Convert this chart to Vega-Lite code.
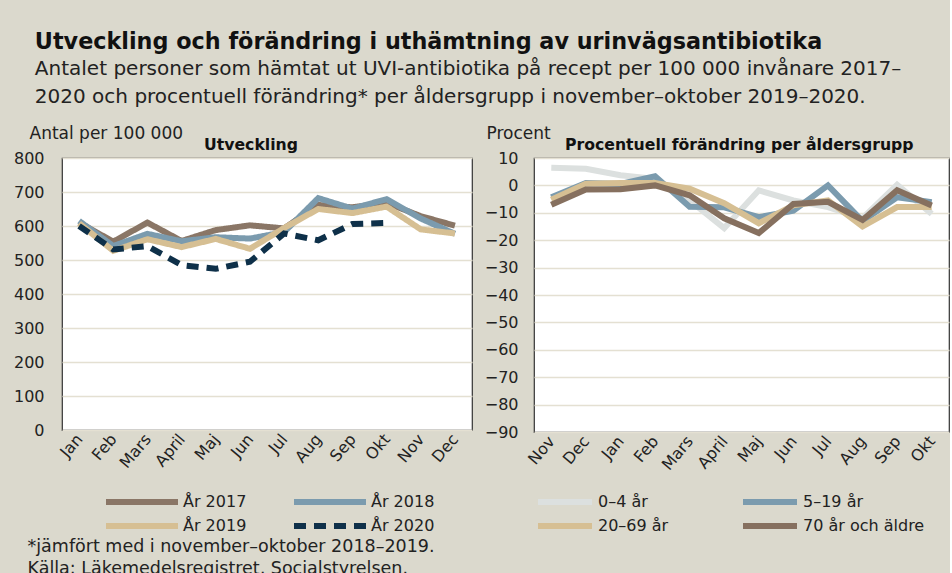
{
  "$schema": "https://vega.github.io/schema/vega-lite/v6.json",
  "background": "#DBD9CD",
  "padding": {"left": 12, "top": 31, "right": 0, "bottom": 0},
  "config": {
    "font": "DejaVu Sans",
    "view": {"stroke": "#333333", "strokeWidth": 1.2, "fill": "white"},
    "axis": {"labelFont": "DejaVu Sans", "titleFont": "DejaVu Sans", "labelColor": "#222", "titleColor": "#222"},
    "legend": {"labelFont": "DejaVu Sans", "labelColor": "#222"}
  },
  "title": {
    "text": "Utveckling och förändring i uthämtning av urinvägsantibiotika",
    "subtitle": ["Antalet personer som hämtat ut UVI-antibiotika på recept per 100 000 invånare 2017–", "2020 och procentuell förändring* per åldersgrupp i november–oktober 2019–2020."],
    "anchor": "start",
    "dx": 22,
    "font": "DejaVu Sans",
    "fontSize": 22.3,
    "fontWeight": "bold",
    "color": "#111",
    "subtitleFont": "DejaVu Sans",
    "subtitleFontSize": 20,
    "subtitleColor": "#222",
    "subtitleLineHeight": 28,
    "subtitlePadding": 6,
    "offset": 16
  },
  "datasets": {
    "utv": [
      {"manad": "Jan", "ar": "År 2017", "antal": 610}, {"manad": "Feb", "ar": "År 2017", "antal": 554}, {"manad": "Mars", "ar": "År 2017", "antal": 610}, {"manad": "April", "ar": "År 2017", "antal": 556}, {"manad": "Maj", "ar": "År 2017", "antal": 588}, {"manad": "Jun", "ar": "År 2017", "antal": 602}, {"manad": "Jul", "ar": "År 2017", "antal": 593}, {"manad": "Aug", "ar": "År 2017", "antal": 662}, {"manad": "Sep", "ar": "År 2017", "antal": 655}, {"manad": "Okt", "ar": "År 2017", "antal": 668}, {"manad": "Nov", "ar": "År 2017", "antal": 629}, {"manad": "Dec", "ar": "År 2017", "antal": 601},
      {"manad": "Jan", "ar": "År 2018", "antal": 615}, {"manad": "Feb", "ar": "År 2018", "antal": 541}, {"manad": "Mars", "ar": "År 2018", "antal": 577}, {"manad": "April", "ar": "År 2018", "antal": 555}, {"manad": "Maj", "ar": "År 2018", "antal": 567}, {"manad": "Jun", "ar": "År 2018", "antal": 563}, {"manad": "Jul", "ar": "År 2018", "antal": 582}, {"manad": "Aug", "ar": "År 2018", "antal": 682}, {"manad": "Sep", "ar": "År 2018", "antal": 651}, {"manad": "Okt", "ar": "År 2018", "antal": 679}, {"manad": "Nov", "ar": "År 2018", "antal": 622}, {"manad": "Dec", "ar": "År 2018", "antal": 577},
      {"manad": "Jan", "ar": "År 2019", "antal": 608}, {"manad": "Feb", "ar": "År 2019", "antal": 527}, {"manad": "Mars", "ar": "År 2019", "antal": 561}, {"manad": "April", "ar": "År 2019", "antal": 538}, {"manad": "Maj", "ar": "År 2019", "antal": 562}, {"manad": "Jun", "ar": "År 2019", "antal": 533}, {"manad": "Jul", "ar": "År 2019", "antal": 594}, {"manad": "Aug", "ar": "År 2019", "antal": 650}, {"manad": "Sep", "ar": "År 2019", "antal": 638}, {"manad": "Okt", "ar": "År 2019", "antal": 657}, {"manad": "Nov", "ar": "År 2019", "antal": 590}, {"manad": "Dec", "ar": "År 2019", "antal": 578},
      {"manad": "Jan", "ar": "År 2020", "antal": 600}, {"manad": "Feb", "ar": "År 2020", "antal": 531}, {"manad": "Mars", "ar": "År 2020", "antal": 541}, {"manad": "April", "ar": "År 2020", "antal": 485}, {"manad": "Maj", "ar": "År 2020", "antal": 474}, {"manad": "Jun", "ar": "År 2020", "antal": 495}, {"manad": "Jul", "ar": "År 2020", "antal": 578}, {"manad": "Aug", "ar": "År 2020", "antal": 558}, {"manad": "Sep", "ar": "År 2020", "antal": 606}, {"manad": "Okt", "ar": "År 2020", "antal": 609}
    ],
    "pct": [
      {"manad": "Nov", "grupp": "0–4 år", "procent": 6.4}, {"manad": "Dec", "grupp": "0–4 år", "procent": 6.1}, {"manad": "Jan", "grupp": "0–4 år", "procent": 3.7}, {"manad": "Feb", "grupp": "0–4 år", "procent": 2.4}, {"manad": "Mars", "grupp": "0–4 år", "procent": -5.5}, {"manad": "April", "grupp": "0–4 år", "procent": -15.6}, {"manad": "Maj", "grupp": "0–4 år", "procent": -1.8}, {"manad": "Jun", "grupp": "0–4 år", "procent": -5.5}, {"manad": "Jul", "grupp": "0–4 år", "procent": -7.9}, {"manad": "Aug", "grupp": "0–4 år", "procent": -12}, {"manad": "Sep", "grupp": "0–4 år", "procent": 0.2}, {"manad": "Okt", "grupp": "0–4 år", "procent": -10.4},
      {"manad": "Nov", "grupp": "5–19 år", "procent": -4.3}, {"manad": "Dec", "grupp": "5–19 år", "procent": 0.9}, {"manad": "Jan", "grupp": "5–19 år", "procent": 0.5}, {"manad": "Feb", "grupp": "5–19 år", "procent": 3.3}, {"manad": "Mars", "grupp": "5–19 år", "procent": -7.8}, {"manad": "April", "grupp": "5–19 år", "procent": -8}, {"manad": "Maj", "grupp": "5–19 år", "procent": -11.6}, {"manad": "Jun", "grupp": "5–19 år", "procent": -9.2}, {"manad": "Jul", "grupp": "5–19 år", "procent": 0}, {"manad": "Aug", "grupp": "5–19 år", "procent": -13}, {"manad": "Sep", "grupp": "5–19 år", "procent": -4.3}, {"manad": "Okt", "grupp": "5–19 år", "procent": -6.1},
      {"manad": "Nov", "grupp": "20–69 år", "procent": -5.2}, {"manad": "Dec", "grupp": "20–69 år", "procent": 0.6}, {"manad": "Jan", "grupp": "20–69 år", "procent": 0.9}, {"manad": "Feb", "grupp": "20–69 år", "procent": 0.9}, {"manad": "Mars", "grupp": "20–69 år", "procent": -1.2}, {"manad": "April", "grupp": "20–69 år", "procent": -6.5}, {"manad": "Maj", "grupp": "20–69 år", "procent": -13.8}, {"manad": "Jun", "grupp": "20–69 år", "procent": -7.3}, {"manad": "Jul", "grupp": "20–69 år", "procent": -5.5}, {"manad": "Aug", "grupp": "20–69 år", "procent": -15}, {"manad": "Sep", "grupp": "20–69 år", "procent": -7.9}, {"manad": "Okt", "grupp": "20–69 år", "procent": -7.9},
      {"manad": "Nov", "grupp": "70 år och äldre", "procent": -7.1}, {"manad": "Dec", "grupp": "70 år och äldre", "procent": -1.5}, {"manad": "Jan", "grupp": "70 år och äldre", "procent": -1.4}, {"manad": "Feb", "grupp": "70 år och äldre", "procent": 0}, {"manad": "Mars", "grupp": "70 år och äldre", "procent": -3.6}, {"manad": "April", "grupp": "70 år och äldre", "procent": -12}, {"manad": "Maj", "grupp": "70 år och äldre", "procent": -17.4}, {"manad": "Jun", "grupp": "70 år och äldre", "procent": -6.8}, {"manad": "Jul", "grupp": "70 år och äldre", "procent": -6}, {"manad": "Aug", "grupp": "70 år och äldre", "procent": -12.6}, {"manad": "Sep", "grupp": "70 år och äldre", "procent": -1.8}, {"manad": "Okt", "grupp": "70 år och äldre", "procent": -7.3}
    ]
  },
  "resolve": {"scale": {"color": "independent", "strokeDash": "independent"}, "legend": {"color": "independent", "strokeDash": "independent"}},
  "hconcat": [
    {
      "width": 410,
      "height": 272,
      "data": {"name": "utv"},
      "title": {"text": "Utveckling", "anchor": "start", "frame": "group", "dx": 142, "fontSize": 15.7, "fontWeight": "bold", "color": "#111", "offset": -30},
      "mark": {"type": "line", "strokeWidth": 6, "strokeCap": "butt"},
      "encoding": {
        "x": {
          "field": "manad", "type": "nominal",
          "scale": {"type": "point", "padding": 0.5, "domain": ["Jan", "Feb", "Mars", "April", "Maj", "Jun", "Jul", "Aug", "Sep", "Okt", "Nov", "Dec"]},
          "axis": {
            "labelAngle": -50, "labelFontSize": 16, "labelPadding": 6, "labelOverlap": false, "domain": false, "ticks": false, "grid": false,
            "title": ["*jämfört med i november–oktober 2018–2019.", "Källa: Läkemedelsregistret, Socialstyrelsen."],
            "titleFontSize": 17.5, "titleFontWeight": "normal", "titleAngle": 0, "titleAlign": "left", "titleBaseline": "alphabetic",
            "titleX": -35, "titleY": 121, "titleLineHeight": 22
          }
        },
        "y": {
          "field": "antal", "type": "quantitative",
          "scale": {"domain": [0, 800], "nice": false, "zero": true},
          "axis": {
            "values": [0, 100, 200, 300, 400, 500, 600, 700, 800],
            "labelFontSize": 16, "labelPadding": 18, "labelOverlap": false, "domain": false, "ticks": false,
            "grid": true, "gridColor": "#E4E0D2", "gridWidth": 1.5,
            "title": "Antal per 100 000", "titleAngle": 0, "titleAlign": "left", "titleBaseline": "alphabetic",
            "titleX": -33, "titleY": -20, "titleFontSize": 17, "titleFontWeight": "normal"
          }
        },
        "color": {
          "field": "ar", "type": "nominal",
          "scale": {"domain": ["År 2017", "År 2018", "År 2019", "År 2020"], "range": ["#8A7666", "#7B9BAE", "#D6BF93", "#0E3049"]},
          "legend": {
            "title": null, "orient": "none", "direction": "horizontal", "legendX": 44, "legendY": 332, "columns": 2, "columnPadding": 35, "rowPadding": -9,
            "symbolType": "M-4,0H4", "symbolSize": 324, "symbolStrokeWidth": 6, "symbolOffset": 24, "labelFontSize": 16, "labelOffset": 29
          }
        },
        "strokeDash": {
          "field": "ar", "type": "nominal",
          "scale": {"domain": ["År 2017", "År 2018", "År 2019", "År 2020"], "range": [[1, 0], [1, 0], [1, 0], [12, 8]]},
          "legend": {
            "title": null, "orient": "none", "direction": "horizontal", "legendX": 44, "legendY": 332, "columns": 2, "columnPadding": 35, "rowPadding": -9,
            "symbolType": "M-4,0H4", "symbolSize": 324, "symbolStrokeWidth": 6, "symbolOffset": 24, "labelFontSize": 16, "labelOffset": 29
          }
        }
      }
    },
    {
      "width": 415,
      "height": 274,
      "title": {"text": "Procentuell förändring per åldersgrupp", "anchor": "start", "frame": "group", "dx": 31, "fontSize": 15.7, "fontWeight": "bold", "color": "#111", "offset": -30},
      "layer": [
        {
          "mark": {"type": "rule", "color": "#333333", "strokeWidth": 1.2},
          "encoding": {
            "y": {
              "datum": 0, "type": "quantitative",
              "scale": {"domain": [-90, 10], "nice": false},
              "axis": {
                "values": [-90, -80, -70, -60, -50, -40, -30, -20, -10, 0, 10],
                "labelFontSize": 16, "labelPadding": 16, "labelOverlap": false, "domain": false, "ticks": false,
                "grid": true, "gridColor": "#E4E0D2", "gridWidth": 1.5,
                "title": "Procent", "titleAngle": 0, "titleAlign": "left", "titleBaseline": "alphabetic",
                "titleX": -48, "titleY": -20, "titleFontSize": 17, "titleFontWeight": "normal"
              }
            }
          }
        },
        {
          "data": {"name": "pct"},
          "mark": {"type": "line", "strokeWidth": 6, "strokeCap": "butt"},
          "encoding": {
            "x": {
              "field": "manad", "type": "nominal",
              "scale": {"type": "point", "padding": 0.5, "domain": ["Nov", "Dec", "Jan", "Feb", "Mars", "April", "Maj", "Jun", "Jul", "Aug", "Sep", "Okt"]},
              "axis": {"labelAngle": -50, "labelFontSize": 16, "labelPadding": 6, "labelOverlap": false, "domain": false, "ticks": false, "grid": false, "title": null}
            },
            "y": {
              "field": "procent", "type": "quantitative",
              "scale": {"domain": [-90, 10], "nice": false},
              "axis": {
                "values": [-90, -80, -70, -60, -50, -40, -30, -20, -10, 0, 10],
                "labelFontSize": 16, "labelPadding": 16, "labelOverlap": false, "domain": false, "ticks": false,
                "grid": true, "gridColor": "#E4E0D2", "gridWidth": 1.5,
                "title": "Procent", "titleAngle": 0, "titleAlign": "left", "titleBaseline": "alphabetic",
                "titleX": -48, "titleY": -20, "titleFontSize": 17, "titleFontWeight": "normal"
              }
            },
            "color": {
              "field": "grupp", "type": "nominal",
              "scale": {"domain": ["0–4 år", "5–19 år", "20–69 år", "70 år och äldre"], "range": ["#DCE0DF", "#7B9BAE", "#D6BF93", "#86705F"]},
              "legend": {
                "title": null, "orient": "none", "direction": "horizontal", "legendX": 4, "legendY": 332, "columns": 2, "columnPadding": 62, "rowPadding": -9,
                "symbolType": "M-3,0H3", "symbolSize": 324, "symbolStrokeWidth": 6, "symbolOffset": 15, "labelFontSize": 16, "labelOffset": 21
              }
            }
          }
        }
      ]
    }
  ],
  "spacing": 10
}
